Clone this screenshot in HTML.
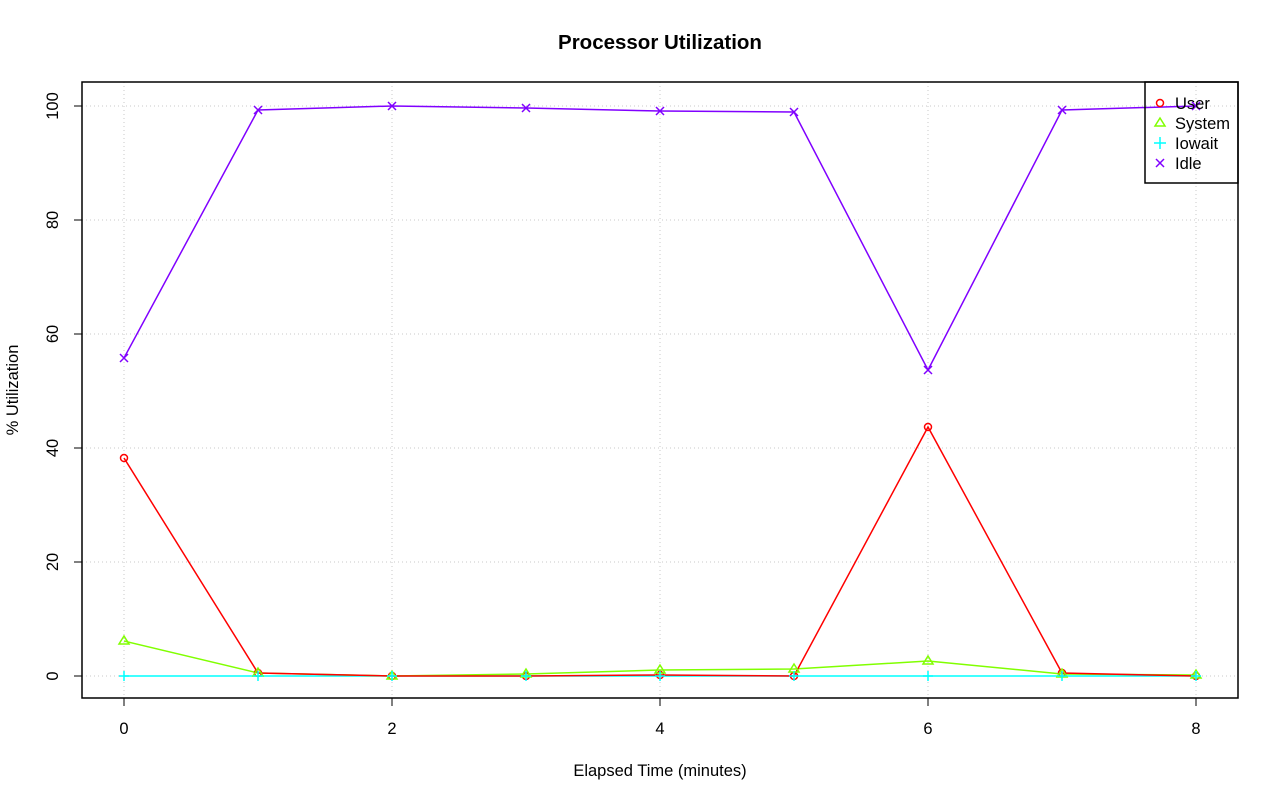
<!DOCTYPE html>
<html><head><style>body{margin:0;background:#fff}svg{display:block}text{font-family:"Liberation Sans",sans-serif;font-size:16.5px}</style></head><body>
<svg width="1280" height="801" viewBox="0 0 1280 801" xmlns="http://www.w3.org/2000/svg">
<rect width="1280" height="801" fill="#fff"/>
<text x="660" y="49" text-anchor="middle" style="font-weight:bold;font-size:20.5px">Processor Utilization</text>
<g stroke="#c8c8c8" stroke-dasharray="1,3" stroke-width="1">
<line x1="124" y1="82" x2="124" y2="698"/><line x1="392" y1="82" x2="392" y2="698"/><line x1="660" y1="82" x2="660" y2="698"/><line x1="928" y1="82" x2="928" y2="698"/><line x1="1196" y1="82" x2="1196" y2="698"/>
<line x1="82" y1="676" x2="1238" y2="676"/><line x1="82" y1="562" x2="1238" y2="562"/><line x1="82" y1="448" x2="1238" y2="448"/><line x1="82" y1="334" x2="1238" y2="334"/><line x1="82" y1="220" x2="1238" y2="220"/><line x1="82" y1="106" x2="1238" y2="106"/>
</g>
<rect x="82" y="82" width="1156" height="616" fill="none" stroke="#000" stroke-width="1.5"/>
<g stroke="#000" stroke-width="1">
<line x1="124" y1="698" x2="124" y2="706"/><line x1="392" y1="698" x2="392" y2="706"/><line x1="660" y1="698" x2="660" y2="706"/><line x1="928" y1="698" x2="928" y2="706"/><line x1="1196" y1="698" x2="1196" y2="706"/>
<line x1="82" y1="676" x2="74" y2="676"/><line x1="82" y1="562" x2="74" y2="562"/><line x1="82" y1="448" x2="74" y2="448"/><line x1="82" y1="334" x2="74" y2="334"/><line x1="82" y1="220" x2="74" y2="220"/><line x1="82" y1="106" x2="74" y2="106"/>
</g>
<g text-anchor="middle">
<text x="124" y="734">0</text><text x="392" y="734">2</text><text x="660" y="734">4</text><text x="928" y="734">6</text><text x="1196" y="734">8</text>
<text x="660" y="776">Elapsed Time (minutes)</text>
<text transform="translate(58,676) rotate(-90)">0</text><text transform="translate(58,562) rotate(-90)">20</text><text transform="translate(58,448) rotate(-90)">40</text><text transform="translate(58,334) rotate(-90)">60</text><text transform="translate(58,220) rotate(-90)">80</text><text transform="translate(58,106) rotate(-90)">100</text>
<text transform="translate(18,390) rotate(-90)">% Utilization</text>
</g>
<g fill="none" stroke-width="1.5">
<polyline stroke="#00ffff" points="124,676 258,676 392,676 526,676 660,676 794,676 928,676 1062,676 1196,676"/>
<polyline stroke="#80ff00" points="124,641 258,673 392,676 526,674 660,670 794,669 928,661 1062,674 1196,675"/>
<polyline stroke="#ff0000" points="124,458 258,673 392,676 526,676 660,675 794,676 928,427 1062,673 1196,676"/>
<polyline stroke="#8000ff" points="124,358 258,110 392,106 526,108 660,111 794,112 928,370 1062,110 1196,106"/>
</g>
<g fill="none" stroke="#ff0000" stroke-width="1.5">
<circle cx="124" cy="458" r="3.5"/><circle cx="258" cy="673" r="3.5"/><circle cx="392" cy="676" r="3.5"/><circle cx="526" cy="676" r="3.5"/><circle cx="660" cy="675" r="3.5"/><circle cx="794" cy="676" r="3.5"/><circle cx="928" cy="427" r="3.5"/><circle cx="1062" cy="673" r="3.5"/><circle cx="1196" cy="676" r="3.5"/>
<circle cx="1160" cy="103" r="3.5"/>
</g>
<g fill="none" stroke="#80ff00" stroke-width="1.5">
<path d="M124,636 l-5,8 h10 z M258,668 l-5,8 h10 z M392,671 l-5,8 h10 z M526,669 l-5,8 h10 z M660,665 l-5,8 h10 z M794,664 l-5,8 h10 z M928,656 l-5,8 h10 z M1062,669 l-5,8 h10 z M1196,670 l-5,8 h10 z M1160,118 l-5,8 h10 z"/>
</g>
<g stroke="#00ffff" stroke-width="1.5">
<path d="M119,676 h10 M124,671 v10 M253,676 h10 M258,671 v10 M387,676 h10 M392,671 v10 M521,676 h10 M526,671 v10 M655,676 h10 M660,671 v10 M789,676 h10 M794,671 v10 M923,676 h10 M928,671 v10 M1057,676 h10 M1062,671 v10 M1191,676 h10 M1196,671 v10 M1154,143 h12 M1160,137 v12"/>
</g>
<g stroke="#8000ff" stroke-width="1.5">
<path d="M120,354 l8,8 M128,354 l-8,8 M254,106 l8,8 M262,106 l-8,8 M388,102 l8,8 M396,102 l-8,8 M522,104 l8,8 M530,104 l-8,8 M656,107 l8,8 M664,107 l-8,8 M790,108 l8,8 M798,108 l-8,8 M924,366 l8,8 M932,366 l-8,8 M1058,106 l8,8 M1066,106 l-8,8 M1192,102 l8,8 M1200,102 l-8,8 M1156,159 l8,8 M1164,159 l-8,8"/>
</g>
<rect x="1145" y="82" width="93" height="101" fill="none" stroke="#000" stroke-width="1.5"/>
<text x="1175" y="109">User</text><text x="1175" y="129">System</text><text x="1175" y="149">Iowait</text><text x="1175" y="169">Idle</text>
</svg>
</body></html>
